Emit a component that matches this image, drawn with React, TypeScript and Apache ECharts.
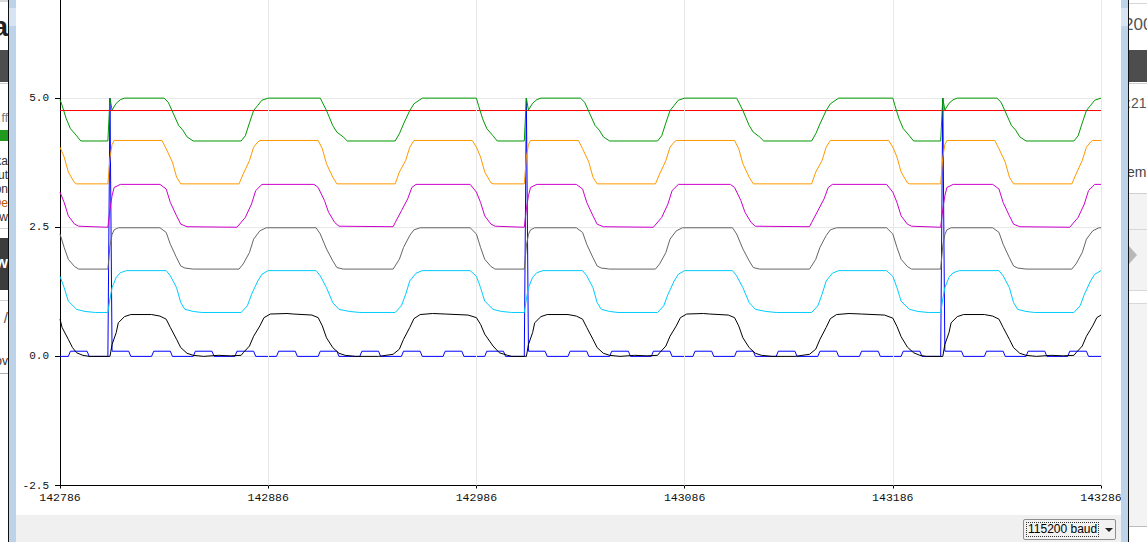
import React, { useEffect, useRef } from "react";
import * as echarts from "echarts";

// x tick labels (sample counter) and y range
const xTicks = [142786, 142886, 142986, 143086, 143186, 143286];
const xMin = 142786;
const xMax = 143286;
const yMin = -2.5;
const yMax = 7.5;
const yStep = 2.5;
const yLabelMax = 5.0;

// series colours (Arduino serial plotter order)
const seriesColors = ["#0000ff", "#ff0000", "#009900", "#ff9900", "#cc00cc", "#666666", "#00ccff", "#000000"];

// values: [sample, value]
const blueData: [number, number][] = [
  [142786, 0], [142790, 0], [142791, 0.1], [142799, 0.1], [142800, 0], [142809, 0],
  [142810, 5.0], [142811, 0.1], [142819, 0.1], [142820, 0], [142830, 0], [142831, 0.1], [142839, 0.1], [142840, 0],
  [142850, 0], [142851, 0.1], [142859, 0.1], [142860, 0], [142870, 0], [142871, 0.1], [142879, 0.1], [142880, 0],
  [142890, 0], [142891, 0.1], [142899, 0.1], [142900, 0], [142910, 0], [142911, 0.1], [142919, 0.1], [142920, 0],
  [142930, 0], [142931, 0.1], [142939, 0.1], [142940, 0], [142950, 0], [142951, 0.1], [142959, 0.1], [142960, 0],
  [142970, 0], [142971, 0.1], [142979, 0.1], [142980, 0], [142990, 0], [142991, 0.1], [142999, 0.1], [143000, 0],
  [143009, 0],
  [143010, 5.0], [143011, 0.1], [143019, 0.1], [143020, 0], [143030, 0], [143031, 0.1], [143039, 0.1], [143040, 0],
  [143050, 0], [143051, 0.1], [143059, 0.1], [143060, 0], [143070, 0], [143071, 0.1], [143079, 0.1], [143080, 0],
  [143090, 0], [143091, 0.1], [143099, 0.1], [143100, 0], [143110, 0], [143111, 0.1], [143119, 0.1], [143120, 0],
  [143130, 0], [143131, 0.1], [143139, 0.1], [143140, 0], [143150, 0], [143151, 0.1], [143159, 0.1], [143160, 0],
  [143170, 0], [143171, 0.1], [143179, 0.1], [143180, 0], [143190, 0], [143191, 0.1], [143199, 0.1], [143200, 0],
  [143209, 0],
  [143210, 5.0], [143211, 0.1], [143219, 0.1], [143220, 0], [143230, 0], [143231, 0.1], [143239, 0.1], [143240, 0],
  [143250, 0], [143251, 0.1], [143259, 0.1], [143260, 0], [143270, 0], [143271, 0.1], [143279, 0.1], [143280, 0],
  [143286, 0],
];

const redData: [number, number][] = [[142786, 4.76], [143286, 4.76]];

const greenData: [number, number][] = [
  [142786, 4.97], [142787, 4.86], [142789, 4.6], [142791, 4.41], [142794, 4.27], [142796, 4.17], [142809, 4.17],
  [142810, 5.0], [142811, 4.77], [142813, 4.9], [142815, 4.97], [142817, 5.0], [142836, 5.0], [142838, 4.92],
  [142843, 4.47], [142845, 4.38], [142847, 4.25], [142850, 4.17], [142873, 4.17], [142875, 4.27], [142877, 4.52],
  [142879, 4.76], [142881, 4.86], [142883, 4.96], [142886, 5.0], [142911, 5.0], [142914, 4.76], [142917, 4.47],
  [142919, 4.34], [142922, 4.25], [142924, 4.17], [142947, 4.17], [142949, 4.31], [142951, 4.5], [142954, 4.76],
  [142956, 4.89], [142960, 5.0], [142986, 5.0], [142987, 4.86], [142989, 4.6], [142991, 4.41], [142994, 4.27],
  [142996, 4.17], [143009, 4.17],
  [143010, 5.0], [143011, 4.77], [143013, 4.9], [143015, 4.97], [143017, 5.0], [143036, 5.0], [143038, 4.92],
  [143043, 4.47], [143045, 4.38], [143047, 4.25], [143050, 4.17], [143073, 4.17], [143075, 4.27], [143077, 4.52],
  [143079, 4.76], [143081, 4.86], [143083, 4.96], [143086, 5.0], [143111, 5.0], [143114, 4.76], [143117, 4.47],
  [143119, 4.34], [143122, 4.25], [143124, 4.17], [143147, 4.17], [143149, 4.31], [143151, 4.5], [143154, 4.76],
  [143156, 4.89], [143160, 5.0], [143186, 5.0], [143187, 4.86], [143189, 4.6], [143191, 4.41], [143194, 4.27],
  [143196, 4.17], [143209, 4.17],
  [143210, 5.0], [143211, 4.77], [143213, 4.9], [143215, 4.97], [143217, 5.0], [143236, 5.0], [143238, 4.92],
  [143243, 4.47], [143245, 4.38], [143247, 4.25], [143250, 4.17], [143273, 4.17], [143275, 4.27], [143277, 4.52],
  [143279, 4.76], [143281, 4.86], [143283, 4.96], [143286, 5.0],
];

const orangeData: [number, number][] = [
  [142786, 4.05], [142788, 3.86], [142790, 3.57], [142793, 3.36], [142794, 3.34], [142809, 3.34],
  [142810, 3.85], [142811, 4.1], [142812, 4.18], [142835, 4.18], [142837, 4.02], [142840, 3.76], [142842, 3.47],
  [142844, 3.34], [142872, 3.34], [142874, 3.53], [142877, 3.79], [142879, 4.05], [142881, 4.15], [142882, 4.18],
  [142910, 4.18], [142912, 4.02], [142914, 3.73], [142917, 3.47], [142919, 3.34], [142947, 3.34], [142949, 3.57],
  [142952, 3.79], [142954, 4.05], [142956, 4.18], [142984, 4.18], [142986, 4.05], [142988, 3.86], [142990, 3.57],
  [142993, 3.36], [142994, 3.34], [143009, 3.34],
  [143010, 3.85], [143011, 4.1], [143012, 4.18], [143035, 4.18], [143037, 4.02], [143040, 3.76], [143042, 3.47],
  [143044, 3.34], [143072, 3.34], [143074, 3.53], [143077, 3.79], [143079, 4.05], [143081, 4.15], [143082, 4.18],
  [143110, 4.18], [143112, 4.02], [143114, 3.73], [143117, 3.47], [143119, 3.34], [143147, 3.34], [143149, 3.57],
  [143152, 3.79], [143154, 4.05], [143156, 4.18], [143184, 4.18], [143186, 4.05], [143188, 3.86], [143190, 3.57],
  [143193, 3.36], [143194, 3.34], [143209, 3.34],
  [143210, 3.85], [143211, 4.1], [143212, 4.18], [143235, 4.18], [143237, 4.02], [143240, 3.76], [143242, 3.47],
  [143244, 3.34], [143272, 3.34], [143274, 3.53], [143277, 3.79], [143279, 4.05], [143281, 4.15], [143282, 4.18],
  [143286, 4.18],
];

const magentaData: [number, number][] = [
  [142786, 3.18], [142788, 2.98], [142790, 2.72], [142793, 2.56], [142795, 2.52], [142809, 2.5],
  [142810, 2.85], [142811, 3.11], [142812, 3.27], [142815, 3.33], [142834, 3.33], [142837, 3.24], [142839, 2.98],
  [142842, 2.72], [142844, 2.56], [142847, 2.51], [142871, 2.5], [142875, 2.69], [142878, 2.95], [142880, 3.21],
  [142883, 3.33], [142908, 3.33], [142910, 3.27], [142913, 3.02], [142915, 2.79], [142918, 2.59], [142920, 2.52],
  [142946, 2.51], [142947, 2.59], [142950, 2.82], [142953, 3.05], [142955, 3.27], [142957, 3.33], [142983, 3.33],
  [142986, 3.18], [142988, 2.98], [142990, 2.72], [142993, 2.56], [142995, 2.52], [143009, 2.5],
  [143010, 2.85], [143011, 3.11], [143012, 3.27], [143015, 3.33], [143034, 3.33], [143037, 3.24], [143039, 2.98],
  [143042, 2.72], [143044, 2.56], [143047, 2.51], [143071, 2.5], [143075, 2.69], [143078, 2.95], [143080, 3.21],
  [143083, 3.33], [143108, 3.33], [143110, 3.27], [143113, 3.02], [143115, 2.79], [143118, 2.59], [143120, 2.52],
  [143146, 2.51], [143147, 2.59], [143150, 2.82], [143153, 3.05], [143155, 3.27], [143157, 3.33], [143183, 3.33],
  [143186, 3.18], [143188, 2.98], [143190, 2.72], [143193, 2.56], [143195, 2.52], [143209, 2.5],
  [143210, 2.85], [143211, 3.11], [143212, 3.27], [143215, 3.33], [143234, 3.33], [143237, 3.24], [143239, 2.98],
  [143242, 2.72], [143244, 2.56], [143247, 2.51], [143271, 2.5], [143275, 2.69], [143278, 2.95], [143280, 3.21],
  [143283, 3.33], [143286, 3.33],
];

const grayData: [number, number][] = [
  [142786, 2.37], [142788, 2.11], [142790, 1.88], [142793, 1.74], [142795, 1.69], [142809, 1.69],
  [142810, 2.14], [142811, 2.36], [142812, 2.45], [142814, 2.49], [142834, 2.49], [142837, 2.4], [142839, 2.17],
  [142842, 1.91], [142844, 1.75], [142846, 1.71], [142850, 1.69], [142872, 1.69], [142874, 1.79], [142877, 2.01],
  [142879, 2.27], [142882, 2.43], [142885, 2.49], [142909, 2.49], [142911, 2.37], [142914, 2.08], [142917, 1.85],
  [142919, 1.72], [142922, 1.69], [142946, 1.69], [142949, 1.88], [142951, 2.11], [142954, 2.34], [142956, 2.45],
  [142959, 2.49], [142983, 2.49], [142986, 2.37], [142988, 2.11], [142990, 1.88], [142993, 1.74], [142995, 1.69],
  [143009, 1.69],
  [143010, 2.14], [143011, 2.36], [143012, 2.45], [143014, 2.49], [143034, 2.49], [143037, 2.4], [143039, 2.17],
  [143042, 1.91], [143044, 1.75], [143046, 1.71], [143050, 1.69], [143072, 1.69], [143074, 1.79], [143077, 2.01],
  [143079, 2.27], [143082, 2.43], [143085, 2.49], [143109, 2.49], [143111, 2.37], [143114, 2.08], [143117, 1.85],
  [143119, 1.72], [143122, 1.69], [143146, 1.69], [143149, 1.88], [143151, 2.11], [143154, 2.34], [143156, 2.45],
  [143159, 2.49], [143183, 2.49], [143186, 2.37], [143188, 2.11], [143190, 1.88], [143193, 1.74], [143195, 1.69],
  [143209, 1.69],
  [143210, 2.14], [143211, 2.36], [143212, 2.45], [143214, 2.49], [143234, 2.49], [143237, 2.4], [143239, 2.17],
  [143242, 1.91], [143244, 1.75], [143246, 1.71], [143250, 1.69], [143272, 1.69], [143274, 1.79], [143277, 2.01],
  [143279, 2.27], [143282, 2.43], [143285, 2.49], [143286, 2.49],
];

const cyanData: [number, number][] = [
  [142786, 1.55], [142788, 1.33], [142790, 1.07], [142794, 0.91], [142798, 0.87], [142803, 0.85], [142809, 0.85],
  [142810, 1.11], [142811, 1.33], [142813, 1.53], [142815, 1.62], [142818, 1.66], [142837, 1.66], [142839, 1.56],
  [142842, 1.33], [142844, 1.04], [142846, 0.91], [142850, 0.87], [142854, 0.85], [142873, 0.85], [142876, 0.98],
  [142878, 1.2], [142881, 1.46], [142883, 1.59], [142886, 1.66], [142909, 1.66], [142911, 1.56], [142914, 1.33],
  [142917, 1.04], [142920, 0.91], [142925, 0.87], [142930, 0.85], [142947, 0.85], [142950, 0.98], [142952, 1.2],
  [142954, 1.46], [142957, 1.61], [142960, 1.66], [142983, 1.66], [142986, 1.55], [142988, 1.33], [142990, 1.07],
  [142994, 0.91], [142998, 0.87], [143003, 0.85], [143009, 0.85],
  [143010, 1.11], [143011, 1.33], [143013, 1.53], [143015, 1.62], [143018, 1.66], [143037, 1.66], [143039, 1.56],
  [143042, 1.33], [143044, 1.04], [143046, 0.91], [143050, 0.87], [143054, 0.85], [143073, 0.85], [143076, 0.98],
  [143078, 1.2], [143081, 1.46], [143083, 1.59], [143086, 1.66], [143109, 1.66], [143111, 1.56], [143114, 1.33],
  [143117, 1.04], [143120, 0.91], [143125, 0.87], [143130, 0.85], [143147, 0.85], [143150, 0.98], [143152, 1.2],
  [143154, 1.46], [143157, 1.61], [143160, 1.66], [143183, 1.66], [143186, 1.55], [143188, 1.33], [143190, 1.07],
  [143194, 0.91], [143198, 0.87], [143203, 0.85], [143209, 0.85],
  [143210, 1.11], [143211, 1.33], [143213, 1.53], [143215, 1.62], [143218, 1.66], [143237, 1.66], [143239, 1.56],
  [143242, 1.33], [143244, 1.04], [143246, 0.91], [143250, 0.87], [143254, 0.85], [143273, 0.85], [143276, 0.98],
  [143278, 1.2], [143281, 1.46], [143283, 1.59], [143286, 1.66],
];

const blackData: [number, number][] = [
  [142786, 0.72], [142787, 0.56], [142790, 0.33], [142792, 0.17], [142794, 0.07], [142797, 0.02], [142800, 0],
  [142809, 0],
  [142810, 0], [142811, 0.23], [142813, 0.46], [142814, 0.65], [142817, 0.77], [142820, 0.81], [142830, 0.81],
  [142834, 0.78], [142837, 0.72], [142839, 0.56], [142842, 0.33], [142844, 0.17], [142847, 0.06], [142850, 0.02],
  [142855, 0], [142862, 0.02], [142868, 0.01], [142873, 0.02], [142874, 0.07], [142877, 0.2], [142879, 0.39],
  [142882, 0.59], [142884, 0.75], [142887, 0.82], [142895, 0.83], [142898, 0.82], [142907, 0.8], [142910, 0.75],
  [142912, 0.59], [142914, 0.36], [142917, 0.17], [142920, 0.06], [142923, 0.02], [142928, 0], [142939, 0],
  [142946, 0.04], [142949, 0.14], [142951, 0.33], [142954, 0.56], [142956, 0.73], [142959, 0.81], [142965, 0.83],
  [142971, 0.82], [142982, 0.8], [142986, 0.75], [142988, 0.62], [142990, 0.43], [142994, 0.2], [142997, 0.07],
  [143001, 0.02], [143003, 0], [143009, 0],
  [143010, 0], [143011, 0.23], [143013, 0.46], [143014, 0.65], [143017, 0.77], [143020, 0.81], [143030, 0.81],
  [143034, 0.78], [143037, 0.72], [143039, 0.56], [143042, 0.33], [143044, 0.17], [143047, 0.06], [143050, 0.02],
  [143055, 0], [143062, 0.02], [143068, 0.01], [143073, 0.02], [143074, 0.07], [143077, 0.2], [143079, 0.39],
  [143082, 0.59], [143084, 0.75], [143087, 0.82], [143095, 0.83], [143098, 0.82], [143107, 0.8], [143110, 0.75],
  [143112, 0.59], [143114, 0.36], [143117, 0.17], [143120, 0.06], [143123, 0.02], [143128, 0], [143139, 0],
  [143146, 0.04], [143149, 0.14], [143151, 0.33], [143154, 0.56], [143156, 0.73], [143159, 0.81], [143165, 0.83],
  [143171, 0.82], [143182, 0.8], [143186, 0.74], [143188, 0.58], [143190, 0.38], [143193, 0.18], [143196, 0.07],
  [143199, 0.02], [143202, 0], [143209, 0],
  [143210, 0], [143211, 0.23], [143213, 0.46], [143214, 0.65], [143217, 0.77], [143220, 0.81], [143230, 0.81],
  [143234, 0.78], [143237, 0.72], [143239, 0.56], [143242, 0.33], [143244, 0.17], [143247, 0.06], [143250, 0.02],
  [143255, 0], [143262, 0.02], [143268, 0.01], [143273, 0.02], [143274, 0.07], [143277, 0.2], [143279, 0.39],
  [143282, 0.59], [143284, 0.75], [143286, 0.8],
];

const allSeries = [blueData, redData, greenData, orangeData, magentaData, grayData, cyanData, blackData];

const MONO = "'Liberation Mono', 'Courier New', monospace";
const UI = "'Liberation Sans', 'Noto Sans', Arial, sans-serif";

type BoxProps = { l: number; t: number; w: number; h: number; bg?: string; style?: React.CSSProperties; children?: React.ReactNode };
function Box({ l, t, w, h, bg, style, children }: BoxProps) {
  return (
    <div style={{ position: "absolute", left: l, top: t, width: w, height: h, background: bg, overflow: "hidden", ...style }}>
      {children}
    </div>
  );
}

function Frag({ t, text, color, size, bold }: { t: number; text: string; color: string; size: number; bold?: boolean }) {
  return (
    <div style={{ position: "absolute", right: 0, top: t, whiteSpace: "nowrap", color, fontSize: size, fontWeight: bold ? 700 : 400, fontFamily: UI, lineHeight: 1 }}>
      {text}
    </div>
  );
}

function FragL({ t, l, text, color, size }: { t: number; l: number; text: string; color: string; size: number }) {
  return (
    <div style={{ position: "absolute", left: l, top: t, whiteSpace: "nowrap", color, fontSize: size, fontFamily: UI, lineHeight: 1 }}>
      {text}
    </div>
  );
}

export default function App() {
  const ref = useRef<HTMLDivElement>(null);

  useEffect(() => {
    document.body.style.margin = "0";
    if (!ref.current) return;
    const chart = echarts.init(ref.current, null, { renderer: "svg" });
    const lines = allSeries.map((d, i) => ({
      type: "line",
      data: d,
      symbol: "none",
      showSymbol: false,
      silent: true,
      z: 3 + i,
      lineStyle: { color: seriesColors[i], width: 1 },
      itemStyle: { color: seriesColors[i] },
      emphasis: { disabled: true },
    }));
    chart.setOption({
      animation: false,
      backgroundColor: "transparent",
      grid: { left: 60, right: 46, top: 0, bottom: 56.5, containLabel: false, outerBoundsMode: "none" },
      tooltip: { show: false },
      xAxis: {
        type: "value",
        min: xMin,
        max: xMax,
        axisLine: { show: true, onZero: false, lineStyle: { color: "#000", width: 1 } },
        axisTick: { show: true, length: 3, customValues: xTicks, lineStyle: { color: "#000" } },
        axisLabel: {
          customValues: xTicks,
          margin: 6,
          color: "#111",
          fontFamily: MONO,
          fontSize: 11.5,
          formatter: (v: number) => String(Math.round(v)),
        },
        splitLine: { show: false },
      },
      yAxis: {
        type: "value",
        min: yMin,
        max: yMax,
        interval: yStep,
        axisLine: { show: true, lineStyle: { color: "#000", width: 1 } },
        axisTick: { show: true, length: 5, lineStyle: { color: "#000" } },
        axisLabel: {
          margin: 11,
          color: "#111",
          fontFamily: MONO,
          fontSize: 11,
          formatter: (v: number) => (v > yLabelMax ? "" : v.toFixed(1)),
        },
        splitLine: { show: true, lineStyle: { color: "#e8e8e8", width: 1 } },
      },
      series: [
        {
          type: "line",
          data: [[xMin, yMin]],
          symbol: "none",
          silent: true,
          z: 1,
          lineStyle: { opacity: 0 },
          markLine: {
            silent: true,
            symbol: ["none", "none"],
            label: { show: false },
            emphasis: { disabled: true },
            lineStyle: { color: "#e8e8e8", width: 1, type: "solid" },
            data: xTicks.slice(1).map((x) => ({ xAxis: x })),
          },
        },
        ...lines,
      ],
    });
    return () => chart.dispose();
  }, []);

  return (
    <div style={{ position: "fixed", left: 0, top: 0, width: 1147, height: 542, overflow: "hidden", background: "#fff" }}>
      <div ref={ref} style={{ position: "absolute", left: 0, top: -31, width: 1147, height: 573 }} />

      {/* left neighbouring window */}
      <Box l={0} t={0} w={8} h={542} bg="#fff">
        <Box l={0} t={0} w={8} h={2} bg="#d8d8d8" />
        <Frag t={13} text="la" color="#222" size={28} bold />
        <Box l={0} t={50} w={8} h={32} bg="#4d4d4d" />
        <Box l={0} t={83} w={8} h={1} bg="#d0d0d0" />
        <Frag t={112} text="ff" color="#777" size={12} />
        <Box l={0} t={130} w={8} h={11} bg="#1f9a1f" />
        <Frag t={155} text="ka" color="#333" size={12} />
        <Frag t={169} text="ut" color="#333" size={12} />
        <Frag t={183} text="on" color="#333" size={12} />
        <Frag t={197} text="De" color="#c05a00" size={12} />
        <Frag t={211} text="w" color="#333" size={12} />
        <Box l={0} t={228} w={8} h={1} bg="#d0d0d0" />
        <Box l={0} t={238} w={8} h={52} bg="#3c3c3c">
          <Frag t={17} text="w" color="#fff" size={16} bold />
        </Box>
        <Box l={0} t={300} w={8} h={1} bg="#d0d0d0" />
        <Frag t={310} text="/" color="#555" size={15} />
        <Frag t={355} text="ov" color="#333" size={12} />
        <Box l={0} t={373} w={8} h={1} bg="#b0b0b0" />
      </Box>
      <Box l={8} t={0} w={1} h={542} bg="#111" />
      <Box l={9} t={0} w={7} h={542} bg="#bcd3ea" />
      <Box l={9} t={8} w={7} h={18} bg="#d6e4f3" />

      {/* bottom bar with baud selector */}
      <Box l={16} t={515} w={1105} h={27} bg="#f0f0f0" />
      <Box l={1023} t={519} w={93} h={21} bg="#f2f2f2" style={{ border: "1px solid #8e8e8e", boxSizing: "border-box", borderRadius: 2 }}>
        <div style={{ position: "absolute", left: 2, top: 2, width: 73, height: 15, border: "1px dotted #333", boxSizing: "border-box" }} />
        <div style={{ position: "absolute", left: 4, top: 2, fontFamily: UI, fontSize: 12, lineHeight: "15px", color: "#000", whiteSpace: "nowrap" }}>
          115200 baud
        </div>
        <div style={{ position: "absolute", left: 81, top: 8, width: 0, height: 0, borderLeft: "4px solid transparent", borderRight: "4px solid transparent", borderTop: "4px solid #222" }} />
      </Box>

      {/* right neighbouring window */}
      <Box l={1121} t={0} w={7} h={542} bg="#bcd3ea" />
      <Box l={1121} t={8} w={7} h={18} bg="#d6e4f3" />
      <Box l={1128} t={0} w={1} h={542} bg="#111" />
      <Box l={1129} t={0} w={18} h={542} bg="#fff">
        <Box l={0} t={3} w={18} h={1} bg="#d6d6d6" />
        <FragL t={16} l={-5} text="200" color="#555" size={17} />
        <Box l={0} t={50} w={18} h={32} bg="#4d4d4d" />
        <Box l={0} t={83} w={18} h={1} bg="#d0d0d0" />
        <FragL t={96} l={-2} text=":21" color="#555" size={14} />
        <FragL t={165} l={-2} text="em" color="#444" size={14} />
        <Box l={0} t={193} w={18} h={1} bg="#d0d0d0" />
        <Box l={0} t={194} w={18} h={36} bg="#f3f3f3" />
        <Box l={0} t={229} w={18} h={1} bg="#d8d8d8" />
        <Box l={0} t={230} w={18} h={60} bg="#f3f3f3" />
        <div style={{ position: "absolute", left: 0, top: 246, width: 0, height: 0, borderTop: "9px solid transparent", borderBottom: "9px solid transparent", borderLeft: "8px solid #b8b8b8" }} />
        <Box l={0} t={290} w={18} h={1} bg="#d8d8d8" />
        <Box l={0} t={303} w={18} h={1} bg="#d8d8d8" />
        <Box l={0} t={304} w={18} h={222} bg="#f3f3f3" />
        <Box l={0} t={526} w={18} h={1} bg="#bdbdbd" />
      </Box>
    </div>
  );
}
